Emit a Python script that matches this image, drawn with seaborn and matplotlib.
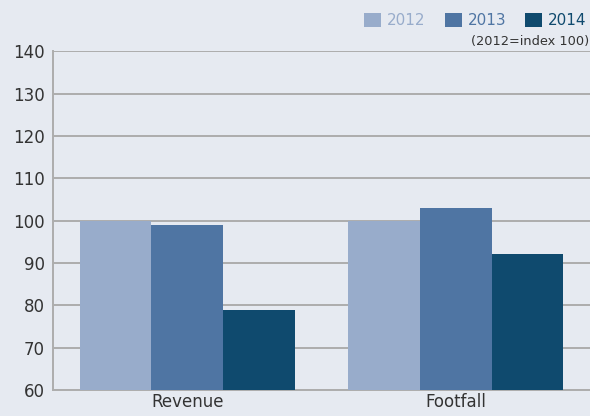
import matplotlib
matplotlib.use("Agg")
import matplotlib.pyplot as plt
import seaborn as sns
import pandas as pd
from matplotlib.patches import Patch

categories = ["Revenue", "Footfall"]
years = ["2012", "2013", "2014"]
values_2012 = [100, 100]
values_2013 = [99, 103]
values_2014 = [79, 92]
colors = ["#98accb", "#4f75a3", "#0f4a6e"]

rows = []
for y, vals in zip(years, [values_2012, values_2013, values_2014]):
    for c, v in zip(categories, vals):
        rows.append({"category": c, "year": y, "value": v})
df = pd.DataFrame(rows)

sns.set_theme(style="white")
plt.rcParams["font.family"] = ["DejaVu Sans"]
bg = "#e6eaf1"
fig = plt.figure(figsize=(5.9, 4.16), dpi=100, facecolor=bg)
ax = fig.add_axes([0.0898, 0.0625, 0.9102, 0.8145])
ax.set_facecolor(bg)

sns.barplot(data=df, x="category", y="value", hue="year", palette=colors,
            width=0.8, gap=0, saturation=1, ax=ax, legend=False, zorder=3,
            linewidth=0, edgecolor="none")

ax.set_ylim(60, 140)
ax.set_xlim(-0.5, 1.5)
ax.set_yticks(range(60, 141, 10))
ax.yaxis.grid(True, color="#adadad", linewidth=1.4, zorder=0)
ax.set_axisbelow(True)
for s in ["top", "right"]:
    ax.spines[s].set_visible(False)
for s in ["left", "bottom"]:
    ax.spines[s].set_color("#adadad")
    ax.spines[s].set_linewidth(1.4)
ax.tick_params(axis="both", length=0, labelsize=12, colors="#333333", pad=6)
ax.tick_params(axis="x", pad=2)
ax.set_xlabel("")
ax.set_ylabel("")

handles = [Patch(facecolor=c, edgecolor="none", label=y) for c, y in zip(colors, years)]
leg = fig.legend(handles=handles, loc="upper right", bbox_to_anchor=(1.018, 1.003),
                 ncol=3, frameon=False, fontsize=11, handlelength=1.1,
                 handleheight=1.1, handletextpad=0.4, columnspacing=1.25,
                 labelcolor=colors)
fig.text(0.998, 0.885, "(2012=index 100)", ha="right", va="bottom",
         fontsize=9.3, color="#333333")

fig.savefig("out.png", dpi=100, facecolor=bg)
